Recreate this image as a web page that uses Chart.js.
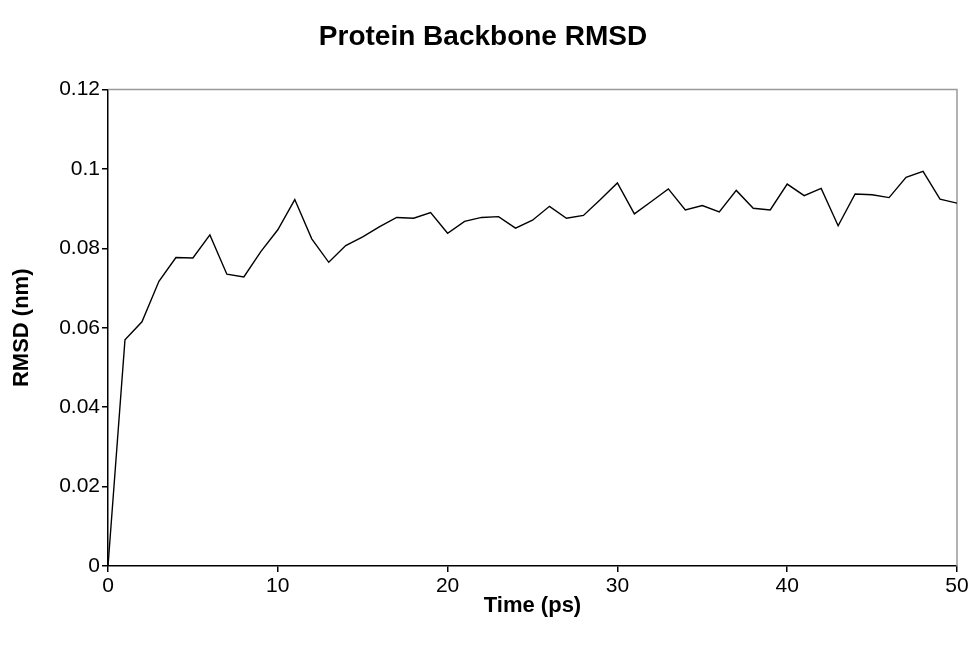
<!DOCTYPE html>
<html>
<head>
<meta charset="utf-8">
<script src="https://cdn.jsdelivr.net/npm/chart.js@4.4.1/dist/chart.umd.min.js"></script>
<style>
  html, body { margin: 0; padding: 0; background: #fff; }
  #wrap { width: 972px; height: 647px; }
</style>
</head>
<body>
<div id="wrap"><canvas id="rmsd" width="972" height="647"></canvas></div>
<script>
// time in ps, backbone RMSD in nm
let time_ps = [0, 1, 2, 3, 4, 5, 6, 7, 8, 9, 10, 11, 12, 13, 14, 15, 16, 17, 18, 19, 20,
    21, 22, 23, 24, 25, 26, 27, 28, 29, 30, 31, 32, 33, 34, 35, 36, 37, 38, 39, 40,
    41, 42, 43, 44, 45, 46, 47, 48, 49, 50]
let rmsd_nm = [0, 0.0570, 0.0615, 0.0717, 0.0777, 0.0776, 0.0834, 0.0735, 0.0728, 0.0792, 0.0847,
    0.0923, 0.0824, 0.0765, 0.0807, 0.0829, 0.0855, 0.0878, 0.0876, 0.0890, 0.0838,
    0.0868, 0.0878, 0.0880, 0.0851, 0.0871, 0.0906, 0.0876, 0.0883, 0.0923, 0.0965,
    0.0887, 0.0918, 0.0950, 0.0897, 0.0908, 0.0892, 0.0946, 0.0901, 0.0897, 0.0962,
    0.0933, 0.0951, 0.0857, 0.0937, 0.0935, 0.0928, 0.0979, 0.0994, 0.0924, 0.0914]
let x_ticks = [0, 10, 20, 30, 40, 50]
let y_ticks = [0, 0.02, 0.04, 0.06, 0.08, 0.1, 0.12]

let points = time_ps.map((t, i) => ({x: t, y: rmsd_nm[i]}));

// gray frame on the top and right of the plot area, like the original
const plotFrame = {
    id: "plotFrame",
    beforeDatasetsDraw(chart) {
        const {ctx, chartArea: a} = chart;
        ctx.save();
        ctx.strokeStyle = "#999";
        ctx.lineWidth = 1.5;
        ctx.beginPath();
        ctx.moveTo(a.left, a.top);
        ctx.lineTo(a.right, a.top);
        ctx.lineTo(a.right, a.bottom);
        ctx.stroke();
        ctx.restore();
    }
};

Chart.defaults.font.family = "'Liberation Sans', Arial, sans-serif";
Chart.defaults.color = "#000";

new Chart(document.getElementById("rmsd").getContext("2d"), {
    type: "line",
    data: {
        datasets: [{
            label: "RMSD",
            data: points,
            borderColor: "#000",
            borderWidth: 1.4,
            pointRadius: 0,
            tension: 0,
            fill: false
        }]
    },
    options: {
        responsive: false,
        animation: false,
        devicePixelRatio: 1,
        layout: { padding: { left: 9, right: 15, top: 0, bottom: 28 } },
        plugins: {
            legend: { display: false },
            tooltip: { enabled: false },
            title: {
                display: true,
                text: "Protein Backbone RMSD",
                font: { size: 28, weight: "bold" },
                padding: { top: 20, bottom: 36 }
            }
        },
        scales: {
            x: {
                type: "linear",
                min: 0,
                max: 50,
                afterBuildTicks: s => { s.ticks = x_ticks.map(v => ({value: v})); },
                afterFit: s => { s.height = 53; },
                border: { color: "#000", width: 1.5 },
                grid: { drawOnChartArea: false, drawTicks: true, tickLength: 6, color: "#000", lineWidth: 1.5 },
                ticks: { font: { size: 21 }, padding: 2, maxRotation: 0 },
                title: { display: true, text: "Time (ps)", font: { size: 22, weight: "bold" }, padding: 0 }
            },
            y: {
                min: 0,
                max: 0.12,
                afterBuildTicks: s => { s.ticks = y_ticks.map(v => ({value: v})); },
                afterFit: s => { s.width = 99; },
                border: { color: "#000", width: 1.5 },
                grid: { drawOnChartArea: false, drawTicks: true, tickLength: 6, color: "#000", lineWidth: 1.5 },
                ticks: { font: { size: 21 }, padding: 2, callback: v => String(+v.toFixed(2)) },
                title: { display: true, text: "RMSD (nm)", font: { size: 22, weight: "bold" }, padding: 0 }
            }
        }
    },
    plugins: [plotFrame]
});
</script>
</body>
</html>
